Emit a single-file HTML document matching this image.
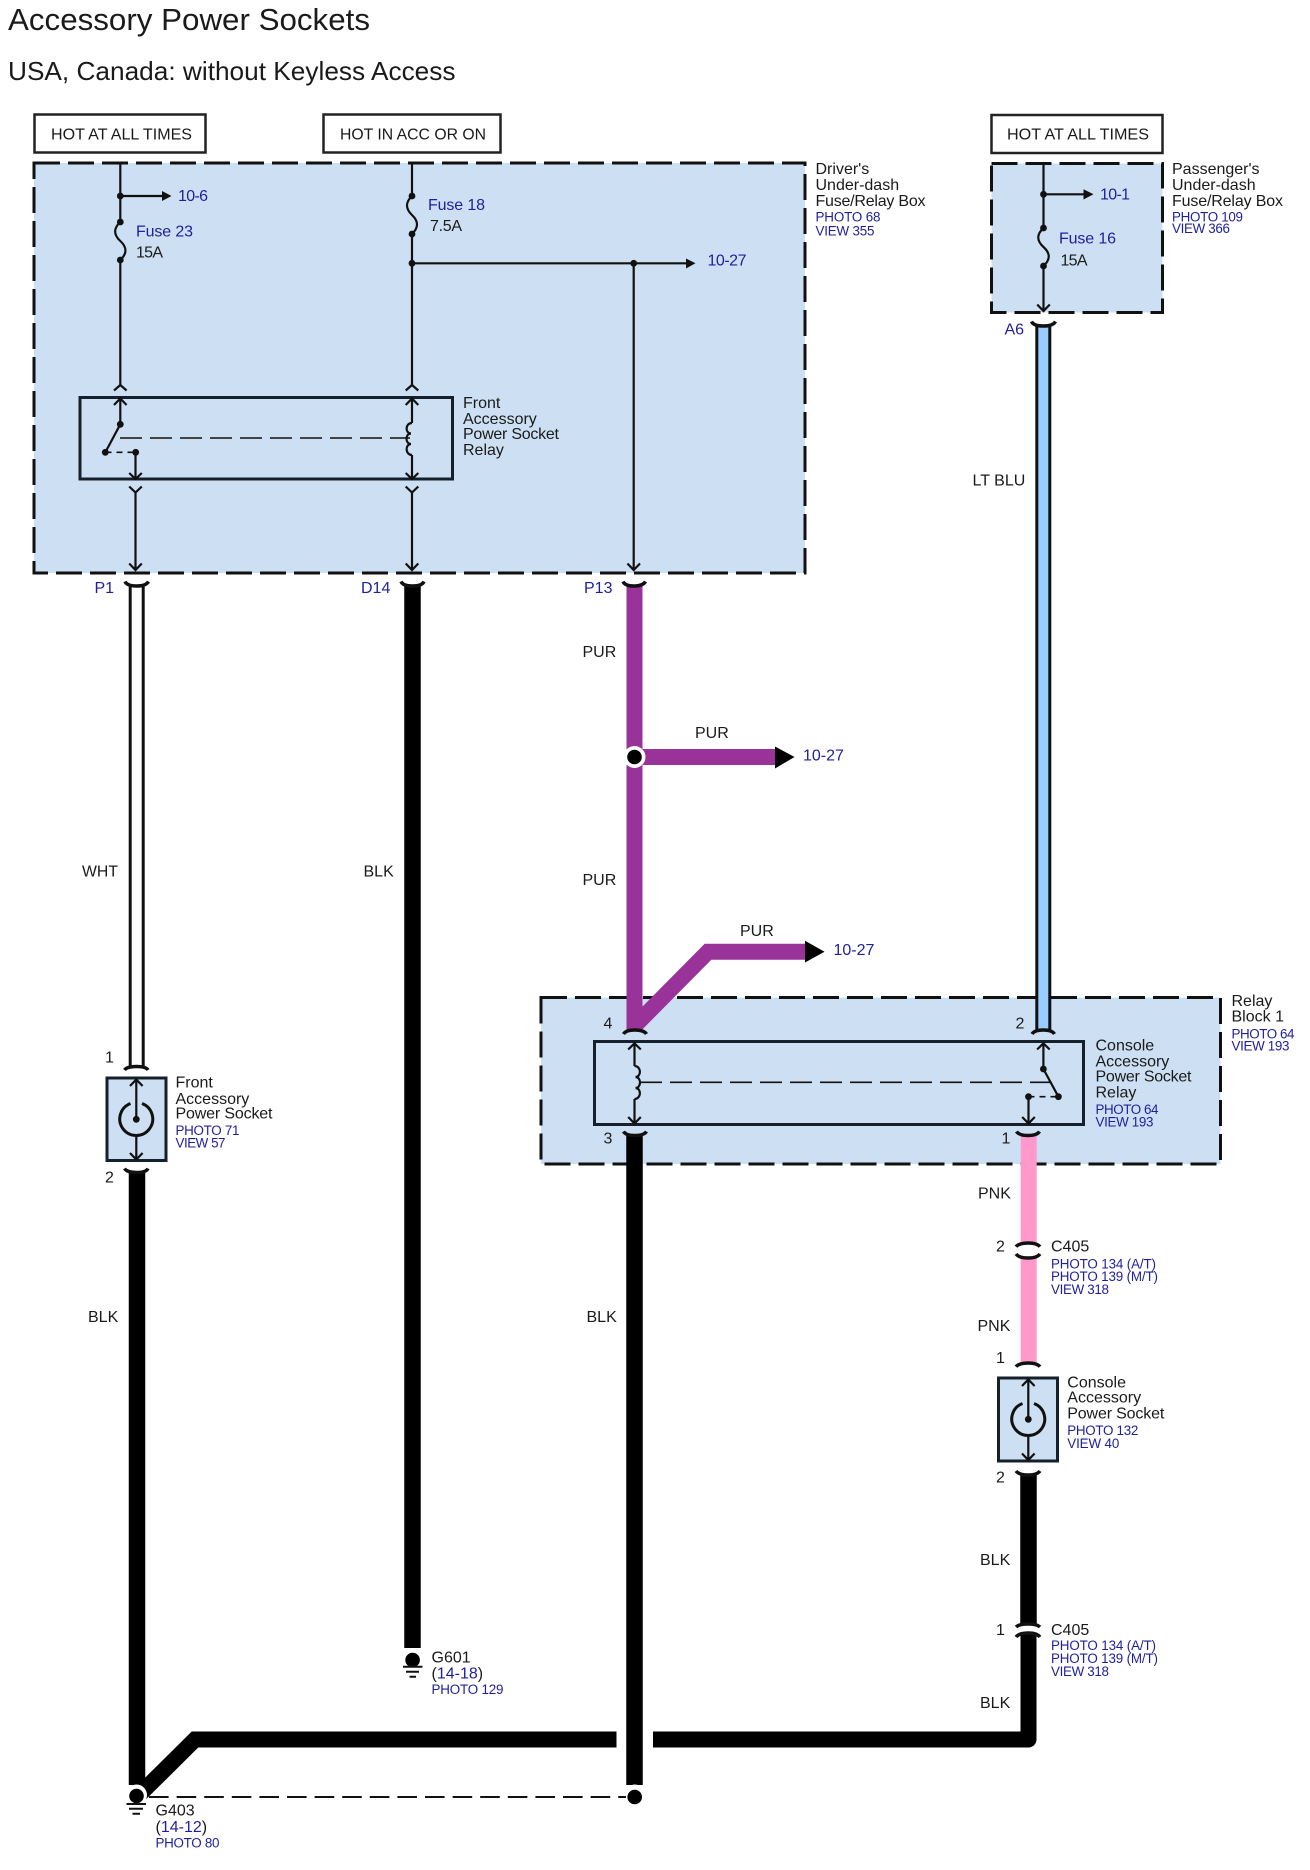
<!DOCTYPE html>
<html><head><meta charset="utf-8"><title>Accessory Power Sockets</title>
<style>
html,body{margin:0;padding:0;background:#fff}
svg{display:block}
text{font-family:"Liberation Sans",sans-serif;font-size:16px;fill:#1a1a1a}
.b{fill:#1f1f9c}
.s{font-size:13.4px;fill:#1f1f9c}
.t{stroke:#111;stroke-width:2.2;fill:none}
.c{stroke:#111;stroke-width:3.5;fill:none}
.k{fill:#111}
</style></head><body>
<svg width="1310" height="1870" viewBox="0 0 1310 1870" xmlns="http://www.w3.org/2000/svg">
<rect width="1310" height="1870" fill="#fff"/>
<text x="8" y="30" style="font-size:30.5px" textLength="362" lengthAdjust="spacingAndGlyphs">Accessory Power Sockets</text>
<text x="8" y="80" style="font-size:26px" textLength="447.5" lengthAdjust="spacingAndGlyphs">USA, Canada: without Keyless Access</text>

<!-- hot boxes -->
<g fill="#fff" stroke="#222" stroke-width="2.5">
<rect x="34.5" y="114.5" width="171" height="38"/>
<rect x="323.5" y="114.5" width="177" height="38"/>
<rect x="991.5" y="115" width="171" height="38"/>
</g>
<text x="51" y="139.5" textLength="141" lengthAdjust="spacingAndGlyphs">HOT AT ALL TIMES</text>
<text x="340" y="139.5" textLength="146" lengthAdjust="spacingAndGlyphs">HOT IN ACC OR ON</text>
<text x="1007" y="139.5" textLength="142" lengthAdjust="spacingAndGlyphs">HOT AT ALL TIMES</text>

<!-- shaded boxes -->
<g fill="#cde0f3" stroke="#111" stroke-width="3" stroke-dasharray="26 8">
<rect x="34" y="163" width="771" height="410"/>
<rect x="991.5" y="163.5" width="171" height="149"/>
<rect x="541" y="997.5" width="679.5" height="166.5"/>
</g>

<!-- Relay boxes -->
<rect x="80" y="397.5" width="372.5" height="81.5" fill="none" stroke="#16202c" stroke-width="3"/>
<rect x="594.5" y="1041.5" width="489" height="83" fill="none" stroke="#16202c" stroke-width="3"/>

<!-- driver's box wires -->
<path class="t" d="M120.3 163V222M412 163V196M412 234V385M412 263.3H690M633.7 263.3V570M135.5 492V570M412 492V570M120.3 196H165"/>
<path class="t" d="M120.3 222Q110 231.5 120.3 241Q130.6 250.5 120.3 260M412 196Q402 205.5 412 215Q422 224.5 412 234M120.3 260V385"/>
<g class="k">
<circle cx="120.3" cy="196" r="3.4"/><circle cx="120.3" cy="222" r="3.4"/><circle cx="120.3" cy="260" r="3.4"/>
<circle cx="412" cy="196" r="3.4"/><circle cx="412" cy="234" r="3.4"/><circle cx="412" cy="263.3" r="3.4"/>
<circle cx="633.7" cy="263.3" r="3.4"/>
<path d="M162 191L171.5 196L162 201ZM686 258.5L695.5 263.3L686 268.5Z"/>
</g>
<!-- chevrons -->
<path class="t" d="M114 390.5L120.3 385L126.6 390.5M405.7 390.5L412 385L418.3 390.5M114 405L120.3 398.5L126.6 405M405.7 405L412 398.5L418.3 405"/>
<path class="t" d="M129.2 473L135.5 479L141.8 473M405.7 473L412 479L418.3 473M129.2 486.5L135.5 492.5L141.8 486.5M405.7 486.5L412 492.5L418.3 486.5"/>
<path class="t" d="M129.2 563.5L135.5 570L141.8 563.5M405.7 563.5L412 570L418.3 563.5M627.4 563.5L633.7 570L640 563.5"/>
<!-- front relay internals -->
<path class="t" d="M120.3 398.5V424.3M120.3 424.3L105.5 452M135.5 452.3V479M412 398.5V423M412 455V479"/>
<path class="t" d="M412 423C405 423 405 433.5 411 433.5C405 433.5 405 444 411 444C405 444 405 455 412 455"/>
<path d="M120 438H410" stroke="#111" stroke-width="1.6" fill="none" stroke-dasharray="22 8"/>
<path d="M105.5 452.3H135.5" stroke="#111" stroke-width="1.6" fill="none" stroke-dasharray="6 5"/>
<g class="k"><circle cx="120.3" cy="424.3" r="3.4"/><circle cx="105.3" cy="452.3" r="3.4"/><circle cx="135.7" cy="452.3" r="3.4"/></g>

<!-- labels upper-left -->
<text x="178" y="201" class="b" textLength="30">10-6</text>
<text x="136" y="236.5" class="b" textLength="57">Fuse 23</text>
<text x="136" y="257.5" textLength="27">15A</text>
<text x="428" y="210" class="b" textLength="57">Fuse 18</text>
<text x="430" y="231" textLength="32">7.5A</text>
<text x="707.5" y="265.5" class="b" textLength="39">10-27</text>

<text x="815.5" y="174">Driver's</text>
<text x="815.5" y="190">Under-dash</text>
<text x="815.5" y="206" textLength="110">Fuse/Relay Box</text>
<text x="815.5" y="221.3" class="s" textLength="65">PHOTO 68</text>
<text x="815.5" y="235.3" class="s" textLength="59">VIEW 355</text>

<!-- passenger's box -->
<path class="t" d="M1043.5 163.5V228M1043.5 266V311M1043.5 194.3H1086"/>
<path class="t" d="M1043.5 228Q1033 237.5 1043.5 247Q1054 256.5 1043.5 266"/>
<path class="t" d="M1037.2 304.5L1043.5 311L1049.8 304.5"/>
<g class="k"><circle cx="1043.5" cy="194.3" r="3.4"/><circle cx="1043.5" cy="228" r="3.4"/><circle cx="1043.5" cy="266" r="3.4"/><path d="M1083.5 189.3L1093.5 194.3L1083.5 199.5Z"/></g>
<text x="1100" y="199.5" class="b" textLength="30">10-1</text>
<text x="1059" y="243.5" class="b" textLength="57">Fuse 16</text>
<text x="1060.5" y="265.5" textLength="27">15A</text>
<text x="1172" y="174">Passenger's</text>
<text x="1172" y="190">Under-dash</text>
<text x="1172" y="206" textLength="111">Fuse/Relay Box</text>
<text x="1172" y="221.3" class="s" textLength="71">PHOTO 109</text>
<text x="1172" y="233" class="s" textLength="58">VIEW 366</text>

<!-- connectors labels -->
<text x="94.5" y="593" class="b">P1</text>
<text x="361" y="593" class="b">D14</text>
<text x="584" y="593" class="b">P13</text>
<text x="1004.5" y="334.5" class="b">A6</text>

<!-- main wires -->
<g fill="none" stroke-linejoin="miter">
<path d="M136.7 586V1066" stroke="#111" stroke-width="16"/>
<path d="M136.7 586V1067" stroke="#fff" stroke-width="10"/>
<path d="M1043.3 325V1030" stroke="#111" stroke-width="16"/>
<path d="M1043.3 325V1030" stroke="#99ccff" stroke-width="10"/>
<path d="M412.5 586V1648" stroke="#000" stroke-width="16.5"/>
<path d="M634.5 586V1030" stroke="#993399" stroke-width="16"/>
<path d="M634.5 1135V1785" stroke="#000" stroke-width="16.5"/>
<path d="M137 1172V1785" stroke="#000" stroke-width="16.5"/>
<path d="M1028.7 1135V1243M1028.7 1258V1363" stroke="#ff99cc" stroke-width="16"/>
<path d="M1028.5 1475V1624" stroke="#000" stroke-width="16.5"/>
<path d="M653 1739.5H1028.5V1633" stroke="#000" stroke-width="16" stroke-linejoin="round"/>
<path d="M137 1797L195 1739.5H616.5" stroke="#000" stroke-width="16"/>
<path d="M634.5 757H776" stroke="#993399" stroke-width="16"/>
<path d="M634.5 1030V1026L708 951.7H806" stroke="#993399" stroke-width="16"/>
</g>
<path d="M775 746.5L794.5 757L775 768.5ZM805 940.7L824.5 951.7L805 962.5Z" fill="#000"/>

<!-- connector curves -->
<path class="c" d="M125 581.5Q127 586 136.7 586Q146 586 148.5 581.5"/>
<path class="c" d="M401 581.5Q403 586 412.5 586Q422 586 424 581.5"/>
<path class="c" d="M623 581.5Q625 586 634 586Q643 586 645.5 581.5"/>
<path class="c" d="M1031.5 321.5Q1033.5 326 1043.3 326Q1053 326 1055.5 321.5"/>
<path class="c" d="M623.5 1034Q626 1030 634.5 1030Q644 1030 646.5 1034"/>
<path class="c" d="M1032 1034Q1034.5 1030 1043.3 1030Q1052 1030 1054.5 1034"/>
<path class="c" d="M623.5 1131.5Q626 1135.5 634.5 1135.5Q644 1135.5 646.5 1131.5"/>
<path class="c" d="M1016.5 1131.5Q1019 1135.5 1028 1135.5Q1037 1135.5 1039.5 1131.5"/>
<path class="c" d="M1016 1246.7Q1019 1243 1028.3 1243Q1037 1243 1040 1246.7"/>
<path class="c" d="M1016 1254Q1019 1258 1028.3 1258Q1037 1258 1040 1254"/>
<path class="c" d="M1016 1366.7Q1019 1363 1028.3 1363Q1037 1363 1040 1366.7"/>
<path class="c" d="M1016 1471Q1019 1475 1028.3 1475Q1037 1475 1040 1471"/>
<path class="c" d="M1016 1627Q1019 1624 1028.3 1624Q1037 1624 1040 1627"/>
<path class="c" d="M1016 1637Q1019 1633 1028.3 1633Q1037 1633 1040 1637"/>
<path class="c" d="M124.5 1070Q127 1066.5 136.5 1066.5Q146 1066.5 148 1070"/>
<path class="c" d="M124.5 1168.5Q127 1172.5 136.5 1172.5Q146 1172.5 148 1168.5"/>

<!-- console relay internals -->
<path class="t" d="M634.5 1043.5V1066M634.5 1099V1123.5M1043.4 1043.5V1069M1043.4 1069L1058.4 1096.7M1028.5 1096.7V1123.5"/>
<path class="t" d="M634.5 1066C641.5 1066 641.5 1077 635.5 1077C641.5 1077 641.5 1088 635.5 1088C641.5 1088 641.5 1099 634.5 1099"/>
<path class="t" d="M628.2 1049.5L634.5 1043.3L640.8 1049.5M628.2 1117L634.5 1123.5L640.8 1117M1037.1 1049.5L1043.4 1043.3L1049.7 1049.5M1022.2 1117L1028.5 1123.5L1034.8 1117"/>
<path d="M640 1082.3H1050" stroke="#111" stroke-width="1.6" fill="none" stroke-dasharray="22 8"/>
<path d="M1028.5 1096.7H1058.4" stroke="#111" stroke-width="1.6" fill="none" stroke-dasharray="6 5"/>
<g class="k"><circle cx="1043.4" cy="1069" r="3.4"/><circle cx="1058.4" cy="1096.7" r="3.4"/><circle cx="1028.5" cy="1096.7" r="3.4"/></g>

<!-- sockets -->
<rect x="107" y="1078" width="59" height="82.5" fill="#cde0f3" stroke="#16202c" stroke-width="3"/>
<path class="c" style="stroke-width:3" d="M130.5 1103.5A16.5 16.5 0 1 0 142 1103.5"/>
<path class="t" d="M136.3 1079.5V1119M136.3 1136V1159.5M130 1086L136.3 1079.5L142.6 1086M130 1153L136.3 1159.5L142.6 1153"/>
<circle class="k" cx="136.3" cy="1119.3" r="3.4"/>

<rect x="998.5" y="1378" width="59" height="83" fill="#cde0f3" stroke="#16202c" stroke-width="3"/>
<path class="c" style="stroke-width:3" d="M1022.5 1403.5A16.5 16.5 0 1 0 1034 1403.5"/>
<path class="t" d="M1028.3 1379.5V1419M1028.3 1436V1460M1022 1386L1028.3 1379.5L1034.6 1386M1022 1453.5L1028.3 1460L1034.6 1453.5"/>
<circle class="k" cx="1028.3" cy="1419.3" r="3.4"/>

<!-- junctions / grounds -->
<circle cx="634.5" cy="757" r="11" fill="#fff"/><circle cx="634.5" cy="757" r="7.3" fill="#000"/>
<circle cx="412.6" cy="1659" r="11" fill="#fff"/>
<circle cx="412.6" cy="1660" r="7.3" fill="#000"/>
<path d="M403 1666.7H422.5M406 1671.7H419M409.5 1676.7H416" stroke="#111" stroke-width="2" fill="none"/>
<circle cx="136.5" cy="1795" r="10.5" fill="#fff"/>
<circle cx="136.5" cy="1796" r="7.3" fill="#000"/>
<path d="M126.5 1804H146M129 1808.7H143M132.5 1813.7H140" stroke="#111" stroke-width="2" fill="none"/>
<circle cx="634.7" cy="1795" r="10.5" fill="#fff"/>
<circle cx="634.7" cy="1797" r="7.3" fill="#000"/>
<path d="M149 1797H626" stroke="#111" stroke-width="2" fill="none" stroke-dasharray="19.6 8"/>

<!-- wire labels -->
<text x="82" y="876.5" textLength="36" lengthAdjust="spacingAndGlyphs">WHT</text>
<text x="363.5" y="876.5">BLK</text>
<text x="582.5" y="657">PUR</text>
<text x="582.5" y="885">PUR</text>
<text x="695" y="738">PUR</text>
<text x="740" y="936">PUR</text>
<text x="803" y="760.5" class="b">10-27</text>
<text x="833.5" y="955" class="b">10-27</text>
<text x="972.5" y="485.5">LT BLU</text>
<text x="88" y="1322">BLK</text>
<text x="586.5" y="1322">BLK</text>
<text x="978" y="1198.5">PNK</text>
<text x="977.5" y="1331">PNK</text>
<text x="980" y="1565">BLK</text>
<text x="980" y="1708">BLK</text>

<!-- pin numbers -->
<text x="105" y="1062.5">1</text>
<text x="105" y="1182.5">2</text>
<text x="603.5" y="1028.5">4</text>
<text x="1015.5" y="1028.5">2</text>
<text x="603.5" y="1143.5">3</text>
<text x="1001.5" y="1143.5">1</text>
<text x="996" y="1251.5">2</text>
<text x="996" y="1363">1</text>
<text x="996" y="1482.5">2</text>
<text x="996" y="1635">1</text>

<!-- component labels -->
<text x="463" y="408">Front</text>
<text x="463" y="424">Accessory</text>
<text x="463" y="439" textLength="96">Power Socket</text>
<text x="463" y="455">Relay</text>

<text x="175.5" y="1087.5">Front</text>
<text x="175.5" y="1104">Accessory</text>
<text x="175.5" y="1118.7" textLength="97">Power Socket</text>
<text x="175.5" y="1135" class="s" textLength="64">PHOTO 71</text>
<text x="175.5" y="1147.7" class="s" textLength="50">VIEW 57</text>

<text x="1095.5" y="1050.7">Console</text>
<text x="1095.5" y="1066.7">Accessory</text>
<text x="1095.5" y="1081.7" textLength="96">Power Socket</text>
<text x="1095.5" y="1097.7">Relay</text>
<text x="1095.5" y="1114" class="s" textLength="63">PHOTO 64</text>
<text x="1095.5" y="1126.7" class="s" textLength="58">VIEW 193</text>

<text x="1231.5" y="1006">Relay</text>
<text x="1231.5" y="1021.7">Block 1</text>
<text x="1231.5" y="1038.3" class="s" textLength="63">PHOTO 64</text>
<text x="1231.5" y="1050.7" class="s" textLength="58">VIEW 193</text>

<text x="1051" y="1251.7">C405</text>
<text x="1051" y="1268.3" class="s" textLength="105">PHOTO 134 (A/T)</text>
<text x="1051" y="1281" class="s" textLength="107">PHOTO 139 (M/T)</text>
<text x="1051" y="1294" class="s" textLength="58">VIEW 318</text>

<text x="1067.3" y="1387.7">Console</text>
<text x="1067.3" y="1402.7">Accessory</text>
<text x="1067.3" y="1418.7" textLength="97">Power Socket</text>
<text x="1067.3" y="1435" class="s" textLength="71">PHOTO 132</text>
<text x="1067.3" y="1448" class="s" textLength="52">VIEW 40</text>

<text x="1051" y="1635">C405</text>
<text x="1051" y="1650" class="s" textLength="105">PHOTO 134 (A/T)</text>
<text x="1051" y="1663" class="s" textLength="107">PHOTO 139 (M/T)</text>
<text x="1051" y="1676" class="s" textLength="58">VIEW 318</text>

<text x="431.5" y="1662.7">G601</text>
<text x="431.5" y="1678.3">(<tspan class="b">14-18</tspan>)</text>
<text x="431.5" y="1694" class="s" textLength="72">PHOTO 129</text>

<text x="155.5" y="1815.7">G403</text>
<text x="155.5" y="1832">(<tspan class="b">14-12</tspan>)</text>
<text x="155.5" y="1847.7" class="s" textLength="64">PHOTO 80</text>
</svg>
</body></html>
